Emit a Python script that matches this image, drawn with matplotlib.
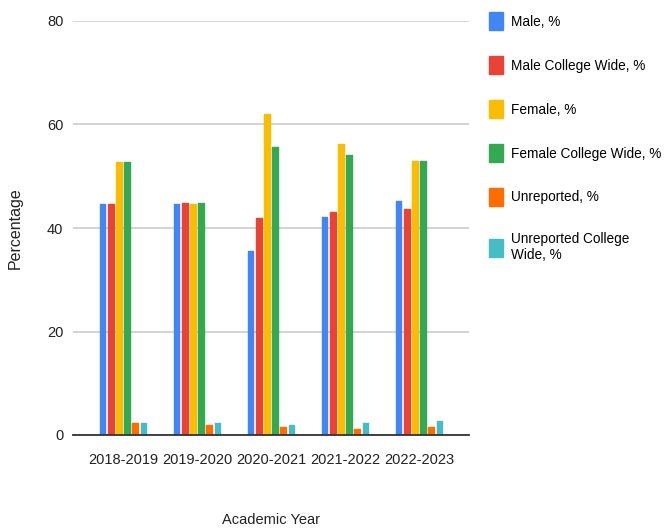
import numpy as np
import matplotlib
matplotlib.use("Agg")
import matplotlib.pyplot as plt

plt.rcParams["font.family"] = ["Liberation Sans", "DejaVu Sans"]

years = ["2018-2019", "2019-2020", "2020-2021", "2021-2022", "2022-2023"]
series_names = ["Male, %", "Male College Wide, %", "Female, %",
                "Female College Wide, %", "Unreported, %",
                "Unreported College\nWide, %"]
male = [44.6, 44.6, 35.6, 42.2, 45.3]
male_cw = [44.6, 44.9, 41.9, 43.0, 43.7]
female = [52.7, 44.6, 62.0, 56.2, 53.0]
female_cw = [52.7, 44.9, 55.7, 54.2, 53.0]
unreported = [2.3, 1.9, 1.5, 1.2, 1.5]
unreported_cw = [2.3, 2.3, 1.9, 2.3, 2.7]
colors = ["#4285F4", "#EA4335", "#FBBC04", "#34A853", "#FF6D01", "#46BDC6"]

fig = plt.figure(figsize=(6.68, 5.31), dpi=100)
ax = fig.add_axes([73 / 668, 96 / 531, 396 / 668, 414 / 531])

x = np.arange(len(years))
pitch = 0.11
width = 0.075
all_series = [male, male_cw, female, female_cw, unreported, unreported_cw]
for i, (vals, name, c) in enumerate(zip(all_series, series_names, colors)):
    offset = (i - 2.5) * pitch
    ax.bar(x + offset, vals, width, color=c, label=name, zorder=3,
           edgecolor=c, linewidth=1.0, joinstyle="round")

ax.set_xlim(-0.676, 4.676)
ax.set_ylim(0, 80)
ax.set_yticks([0, 20, 40, 60, 80])
ax.set_xticks(x)
ax.set_xticklabels(years)
ax.tick_params(axis="both", length=0, labelsize=10.5, colors="#222222")
ax.tick_params(axis="y", pad=7)
ax.tick_params(axis="x", pad=13)
ax.grid(axis="y", color="#cccccc", linewidth=1.2, zorder=0)
for s in ["top", "right", "left"]:
    ax.spines[s].set_visible(False)
ax.spines["bottom"].set_color("#333333")
ax.spines["bottom"].set_linewidth(1.3)
ax.spines["bottom"].set_zorder(4)

ax.set_xlabel("Academic Year", fontsize=10.5, color="#222222")
ax.xaxis.set_label_coords(0.5, -0.205)
ax.xaxis.label.set_va("center")
ax.set_ylabel("Percentage", fontsize=11.5, color="#222222")
ax.yaxis.set_label_coords(-0.146, 0.5)
ax.yaxis.label.set_va("center")

fig.legend(loc="upper left", bbox_to_anchor=(489 / 668, 1 - 12 / 531),
           frameon=False, fontsize=9.8, handlelength=1.0, handleheight=1.7,
           handletextpad=0.65, labelspacing=1.88, borderpad=0, borderaxespad=0)

fig.savefig("out.png", dpi=100)
